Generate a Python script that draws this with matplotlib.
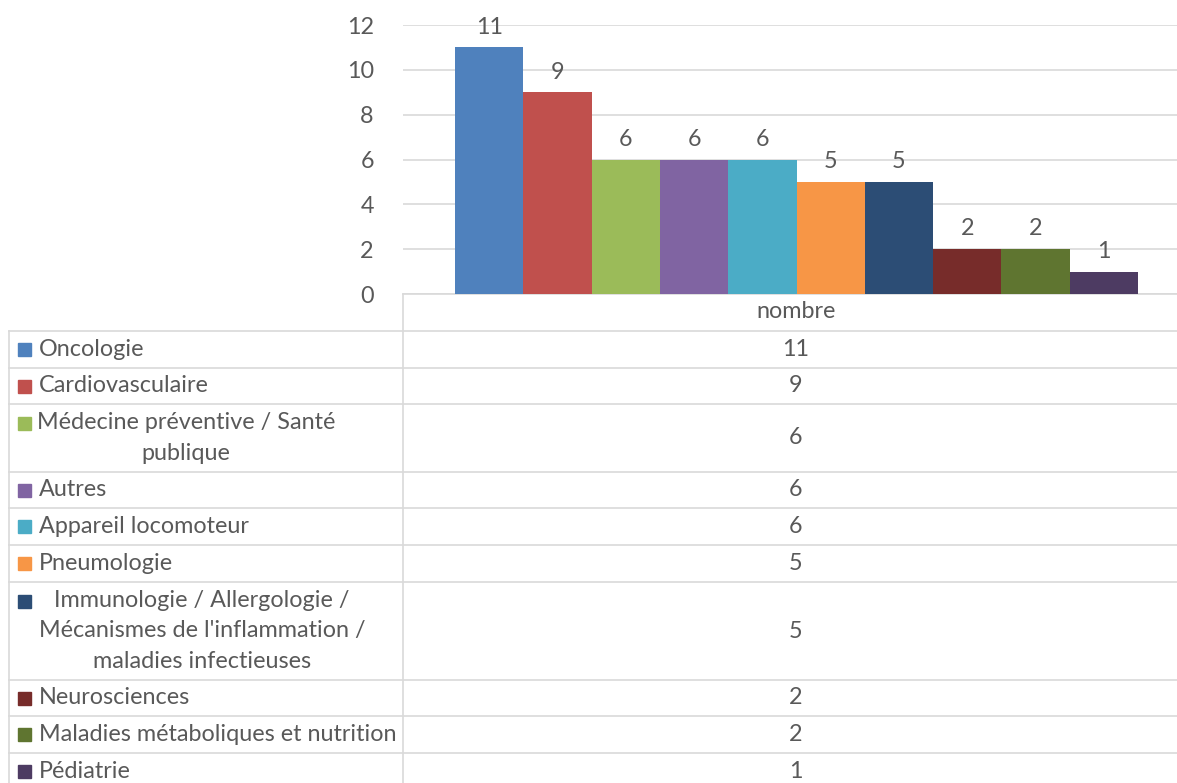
import matplotlib
matplotlib.use("Agg")
import matplotlib.pyplot as plt
from matplotlib.patches import Rectangle
from matplotlib.lines import Line2D
import numpy as np

# ---- data ----
categories = ["Oncologie", "Cardiovasculaire", "Médecine préventive / Santé publique",
              "Autres", "Appareil locomoteur", "Pneumologie",
              "Immunologie / Allergologie / Mécanismes de l'inflammation / maladies infectieuses",
              "Neurosciences", "Maladies métaboliques et nutrition", "Pédiatrie"]
values = [11, 9, 6, 6, 6, 5, 5, 2, 2, 1]
series_name = "nombre"
yticks = [0, 2, 4, 6, 8, 10, 12]

# ---- style ----
colors = ["#4F81BD", "#C0504D", "#9BBB59", "#8064A2", "#4BACC6",
          "#F79646", "#2C4D75", "#772C2A", "#5F7530", "#4D3B62"]
wrapped = {2: "Médecine préventive / Santé\npublique",
           6: "Immunologie / Allergologie /\nMécanismes de l'inflammation /\nmaladies infectieuses"}
wrap_cx = {2: 186, 6: 202}
txt = "#595959"
grid = "#D9D9D9"
plt.rcParams['font.family'] = ['Lato', 'DejaVu Sans']
fs = 16.8

W, H = 1177, 783
fig = plt.figure(figsize=(W / 100, H / 100), dpi=100)

def fx(x): return x / W
def fy(y): return 1 - y / H

ax_left, ax_right, ax_top, ax_bot = 403, 1177, 25, 294
ax = fig.add_axes([fx(ax_left), fy(ax_bot), fx(ax_right - ax_left), (ax_bot - ax_top) / H])
n = len(values)
x = np.arange(n)
ax.bar(x, values, width=1.0, color=colors, edgecolor='none', zorder=3)
barw_px = (1138 - 455) / n
ax.set_xlim(-0.5 - (455 - ax_left) / barw_px, n - 0.5 + (ax_right - 1138) / barw_px)
ax.set_ylim(0, 12)
ax.set_yticks(yticks)
ax.set_yticklabels([str(t) for t in yticks], fontsize=fs, color=txt)
ax.tick_params(axis='y', length=0, pad=21)
ax.set_xticks([])
for s in ['top', 'right', 'left']:
    ax.spines[s].set_visible(False)
ax.spines['bottom'].set_color(grid)
ax.spines['bottom'].set_linewidth(1.2)
ax.grid(axis='y', color=grid, linewidth=1.2, zorder=0)
ax.set_axisbelow(True)
for xi, v in zip(x, values):
    ax.annotate(str(v), (xi, v), xytext=(0, 7), textcoords='offset points',
                ha='center', va='bottom', fontsize=fs, color=txt)

# ---- data table ----
def hline(y, x0, x1):
    fig.add_artist(Line2D([fx(x0), fx(x1)], [fy(y), fy(y)], color=grid, lw=1.2))
def vline(x, y0, y1):
    fig.add_artist(Line2D([fx(x), fx(x)], [fy(y0), fy(y1)], color=grid, lw=1.2))

row_edges = [331, 368, 404, 472, 508, 545, 582, 680, 716, 753, 790]
for y in row_edges[:-1]:
    hline(y, 9, W)
vline(9, 331, H)
vline(ax_left, ax_bot, H)

val_cx = 796
fig.text(fx(val_cx), fy(312), series_name, ha='center', va='center', fontsize=fs, color=txt)

for i, (cat, v, c) in enumerate(zip(categories, values, colors)):
    y0, y1 = row_edges[i], row_edges[i + 1]
    cy = (y0 + y1) / 2
    if i == len(values) - 1:
        cy = 771
    if i in wrapped:
        nl = wrapped[i].count("\n") + 1
        first_y = cy - (nl - 1) * 15
        fig.text(fx(wrap_cx[i]), fy(cy), wrapped[i], ha='center', va='center',
                 fontsize=fs, color=txt, linespacing=1.55, multialignment='center')
        my = first_y
    else:
        fig.text(fx(39), fy(cy), cat, ha='left', va='center', fontsize=fs, color=txt)
        my = cy
    fig.add_artist(Rectangle((fx(18), fy(my + 6.5)), fx(13), 13 / H, color=c,
                             transform=fig.transFigure))
    fig.text(fx(val_cx), fy(cy), str(v), ha='center', va='center', fontsize=fs, color=txt)

fig.savefig("out.png", dpi=100)
